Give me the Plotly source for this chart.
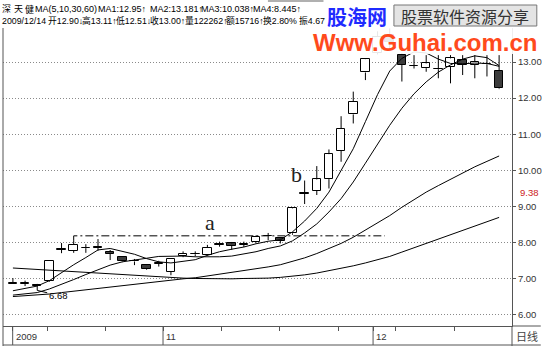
import plotly.graph_objects as go

# ---------------- data ----------------
candle_idx = list(range(41))
opens  = [6.87, 6.87, 6.82, 6.94, 7.81, 7.78, 7.85, 7.87, 7.75, 7.61, 7.50, 7.38, 7.42, 7.20,
          7.64, 7.68, 7.66, 7.95, 7.98, 7.95, 8.01, 8.18, 8.12, 8.26, 9.35, 9.44, 9.76, 10.55,
          11.55, 12.71, 13.25, 13.75, 13.20, 12.90, 12.83, 12.80, 12.87, 13.06, 12.92, 12.95, 12.76]
highs  = [7.02, 6.95, 6.86, 7.52, 7.99, 8.07, 7.96, 8.10, 7.80, 7.62, 7.55, 7.39, 7.50, 7.57,
          7.76, 7.76, 7.94, 8.03, 8.02, 8.03, 8.20, 8.27, 8.14, 8.96, 9.72, 10.12, 10.58, 11.50,
          12.18, 13.10, 13.85, 13.93, 13.25, 13.19, 13.19, 13.19, 13.19, 13.19, 13.19, 13.19, 13.19]
lows   = [6.87, 6.80, 6.68, 6.92, 7.71, 7.72, 7.72, 7.78, 7.52, 7.46, 7.38, 7.25, 7.34, 7.10,
          7.60, 7.62, 7.64, 7.89, 7.80, 7.88, 7.98, 8.07, 7.98, 8.22, 9.07, 9.32, 9.50, 10.24,
          11.30, 12.50, 13.22, 13.30, 12.46, 12.82, 12.73, 12.55, 12.41, 12.64, 12.55, 12.60, 12.25]
closes = [6.88, 6.88, 6.80, 7.50, 7.82, 7.95, 7.86, 7.86, 7.70, 7.48, 7.48, 7.27, 7.43, 7.55,
          7.70, 7.69, 7.86, 7.96, 7.91, 7.96, 8.17, 8.19, 8.06, 8.95, 9.38, 9.75, 10.45, 11.16,
          11.90, 13.08, 13.70, 13.55, 12.92, 12.89, 12.96, 12.81, 13.10, 12.93, 13.01, 12.94, 12.27]

ma5  = [6.67, 6.73, 6.80, 6.95, 7.18, 7.39, 7.59, 7.80, 7.84, 7.77, 7.68, 7.56, 7.47, 7.44,
        7.49, 7.53, 7.65, 7.75, 7.82, 7.88, 7.97, 8.04, 8.08, 8.30, 8.60, 8.95, 9.40, 10.00,
        10.60, 11.35, 12.10, 12.75, 13.10, 13.28, 13.25, 13.08, 12.96, 12.95, 12.97, 12.96, 12.88]
ma10 = [6.55, 6.58, 6.62, 6.72, 6.84, 6.98, 7.12, 7.26, 7.38, 7.47, 7.53, 7.57, 7.62, 7.63,
        7.63, 7.61, 7.60, 7.61, 7.63, 7.68, 7.75, 7.84, 7.91, 8.05, 8.27, 8.52, 8.85, 9.22,
        9.68, 10.20, 10.72, 11.25, 11.72, 12.12, 12.45, 12.72, 12.92, 13.08, 13.17, 13.12, 12.90]
ma30 = [6.51, 6.53, 6.55, 6.58, 6.62, 6.66, 6.70, 6.74, 6.78, 6.82, 6.86, 6.89, 6.93, 6.96,
        7.00, 7.03, 7.08, 7.12, 7.17, 7.22, 7.27, 7.33, 7.39, 7.48, 7.58, 7.70, 7.83, 7.98,
        8.15, 8.35, 8.55, 8.75, 8.98, 9.20, 9.40, 9.58, 9.76, 9.93, 10.10, 10.25, 10.40]
ma60 = [7.30, 7.28, 7.26, 7.24, 7.22, 7.20, 7.18, 7.16, 7.14, 7.11, 7.09, 7.06, 7.04, 7.03,
        7.02, 7.01, 7.00, 7.00, 7.00, 7.01, 7.01, 7.02, 7.04, 7.07, 7.11, 7.16, 7.22, 7.29,
        7.36, 7.44, 7.52, 7.62, 7.74, 7.86, 7.98, 8.10, 8.22, 8.34, 8.46, 8.58, 8.70]

price_ticks = [6, 7, 8, 9, 10, 11, 12, 13]
month_labels = ["2009", "11", "12"]
month_pos = [-0.02, 12.35, 29.63]
minor_tick_pos = [2.86, 7.59, 17.14, 21.96, 26.78, 31.51, 36.33]

low_mark_idx, low_mark_val = 2, 6.68
level_a = 8.19
level_a_from, level_a_to, level_a_foot = 5, 30.6, 8.07
cursor_price = 9.38

info_line1 = ["深", "天", "健", "MA(5,10,30,60)", "MA1:12.95↑", "MA2:13.181↑", "MA3:10.038↑",
              "MA4:8.445↑"]
info_line2 = ["2009/12/14", "开12.90↓", "高13.11↑", "低12.51↓", "收13.00↑", "量122262↑",
              "额15716↑", "换2.80%", "振4.67"]

# ---------------- geometry ----------------
W, H = 545, 346
L, R, T, B = 3, 516, 28, 326
X0, X1 = -0.816, 41.06
Y0, Y1 = 5.695, 13.941
info1_px = [0, 12, 23, 33, 97, 149, 201, 253]
info2_px = [0, 46, 80.5, 115, 149.5, 184, 226, 263, 299]


def px_x(px):
    return (px - L) / (R - L)


def px_y(py):
    return (B - py) / (B - T)


SANS = "Liberation Sans, Arial, Noto Sans CJK SC, sans-serif"
CJK = "Noto Sans CJK SC, sans-serif"

fig = go.Figure()

# wicks (split so they do not cross hollow bodies)
wx, wy = [], []
for i, o, h, l, c in zip(candle_idx, opens, highs, lows, closes):
    top, bot = max(o, c), min(o, c)
    if h > top:
        wx += [i, i, None]
        wy += [top, h, None]
    if l < bot:
        wx += [i, i, None]
        wy += [l, bot, None]
fig.add_trace(go.Scatter(x=wx, y=wy, mode="lines", line=dict(color="black", width=1),
                         hoverinfo="skip"))

body_base = [min(o, c) for o, c in zip(opens, closes)]
body_h = [max(abs(c - o), 0.012) for o, c in zip(opens, closes)]
body_fill = ["white" if c >= o else "#3c3c3c" for o, c in zip(opens, closes)]
fig.add_trace(go.Bar(x=candle_idx, y=body_h, base=body_base, width=0.7,
                     marker=dict(color=body_fill, line=dict(color="black", width=1))))

for ma in (ma60, ma30, ma10, ma5):
    fig.add_trace(go.Scatter(x=candle_idx, y=ma, mode="lines",
                             line=dict(color="black", width=1)))

# dash-dot level line "a"
fig.add_trace(go.Scatter(x=[level_a_from, level_a_from, level_a_to],
                         y=[level_a_foot, level_a, level_a], mode="lines",
                         line=dict(color="black", width=1, dash="8px,3px,2px,3px")))

shapes = []
# watermark veil
shapes.append(dict(type="rect", xref="paper", yref="paper", x0=px_x(306), x1=px_x(545),
                   y0=px_y(54), y1=px_y(28), fillcolor="rgba(255,255,255,0.9)",
                   line=dict(width=0), layer="above"))
# borders
border = "#555555"
shapes.append(dict(type="line", xref="paper", yref="paper", x0=px_x(L), x1=px_x(L),
                   y0=px_y(T), y1=px_y(346), line=dict(color=border, width=1)))
shapes.append(dict(type="line", xref="paper", yref="paper", x0=px_x(R), x1=px_x(R),
                   y0=px_y(B), y1=px_y(346), line=dict(color=border, width=1)))
shapes.append(dict(type="line", xref="paper", yref="paper", x0=px_x(R), x1=px_x(545),
                   y0=px_y(B), y1=px_y(B), line=dict(color=border, width=1)))
shapes.append(dict(type="line", xref="paper", yref="paper", x0=px_x(L), x1=px_x(545),
                   y0=px_y(345), y1=px_y(345), line=dict(color=border, width=1)))
shapes.append(dict(type="line", xref="paper", yref="paper", x0=px_x(270), x1=px_x(326),
                   y0=px_y(1), y1=px_y(1), line=dict(color="#b0b0b0", width=2)))
# month separators in the date strip
for mp in month_pos:
    shapes.append(dict(type="line", xref="x", yref="paper", x0=mp, x1=mp,
                       y0=px_y(B), y1=px_y(345), line=dict(color=border, width=1)))
# stamp box
shapes.append(dict(type="rect", xref="paper", yref="paper", x0=px_x(397), x1=px_x(541),
                   y0=px_y(26), y1=px_y(5), fillcolor="#e4e4e4",
                   line=dict(color="#777777", width=1), layer="above"))

ann = []
for txt, xp in zip(info_line1, info1_px):
    ann.append(dict(text=txt, xref="paper", yref="paper", x=px_x(xp), y=px_y(9.5),
                    xanchor="left", yanchor="middle", showarrow=False,
                    font=dict(family=SANS, size=9, color="black")))
for txt, xp in zip(info_line2, info2_px):
    ann.append(dict(text=txt, xref="paper", yref="paper", x=px_x(xp), y=px_y(20.5),
                    xanchor="left", yanchor="middle", showarrow=False,
                    font=dict(family=SANS, size=8.8, color="black")))

# watermark texts
ann.append(dict(text="<b>股海网</b>", xref="paper", yref="paper", x=px_x(360), y=px_y(16),
                xanchor="center", yanchor="middle", showarrow=False,
                font=dict(family=CJK, size=20, color="#1f2bff")))
ann.append(dict(text="股票软件资源分享", xref="paper", yref="paper", x=px_x(469), y=px_y(16),
                xanchor="center", yanchor="middle", showarrow=False,
                font=dict(family=CJK, size=16, color="#333333")))
ann.append(dict(text="<b>Www.Guhai.com.cn</b>", xref="paper", yref="paper", x=px_x(428),
                y=px_y(42), xanchor="center", yanchor="middle", showarrow=False,
                font=dict(family="Liberation Sans, Arial, sans-serif", size=24, color="#ff4a1c")))

# chart labels
ann.append(dict(text="a", xref="x", yref="y", x=16.24, y=8.57, showarrow=False,
                font=dict(family="Liberation Serif, DejaVu Serif, serif", size=22, color="#222")))
ann.append(dict(text="b", xref="x", yref="y", x=23.35, y=9.90, showarrow=False,
                font=dict(family="Liberation Serif, DejaVu Serif, serif", size=22, color="#222")))
ann.append(dict(text=f"{low_mark_val:.2f}", xref="x", yref="y", x=low_mark_idx, y=low_mark_val,
                ax=21, ay=5, showarrow=True, arrowhead=0, arrowwidth=1, arrowcolor="black",
                font=dict(family=SANS, size=9.5, color="black")))
ann.append(dict(text=f"{cursor_price:.2f}", xref="paper", yref="y", x=px_x(522), y=cursor_price,
                xanchor="left", yanchor="middle", showarrow=False,
                font=dict(family=SANS, size=9.5, color="#cc2222")))
for lab, mp in zip(month_labels, month_pos):
    ann.append(dict(text=lab, xref="x", yref="paper", x=mp, y=px_y(336), xanchor="left",
                    yanchor="middle", xshift=1, showarrow=False,
                    font=dict(family=SANS, size=9.5, color="#333")))
ann.append(dict(text="日线", xref="paper", yref="paper", x=px_x(531), y=px_y(336),
                xanchor="center", yanchor="middle", showarrow=False,
                font=dict(family=CJK, size=11, color="#444")))

fig.update_layout(
    width=W, height=H, margin=dict(l=L, r=W - R, t=T, b=H - B, pad=0),
    paper_bgcolor="white", plot_bgcolor="white", showlegend=False,
    bargap=0, shapes=shapes, annotations=ann,
    xaxis=dict(range=[X0, X1], showgrid=False, zeroline=False, showline=True,
               linecolor=border, linewidth=1, tickvals=month_pos + minor_tick_pos,
               ticks="outside", ticklen=4, tickcolor=border, showticklabels=False,
               fixedrange=True),
    yaxis=dict(side="right", range=[Y0, Y1], tickvals=price_ticks, tickformat=".2f",
               ticks="outside", ticklen=3, tickcolor=border, showgrid=True,
               gridcolor="#8a8a8a", griddash="1px,2px", gridwidth=1, zeroline=False,
               showline=True, linecolor=border, linewidth=1,
               tickfont=dict(family=SANS, size=9.5, color="#333"), fixedrange=True),
)

fig.write_html("out.html")
